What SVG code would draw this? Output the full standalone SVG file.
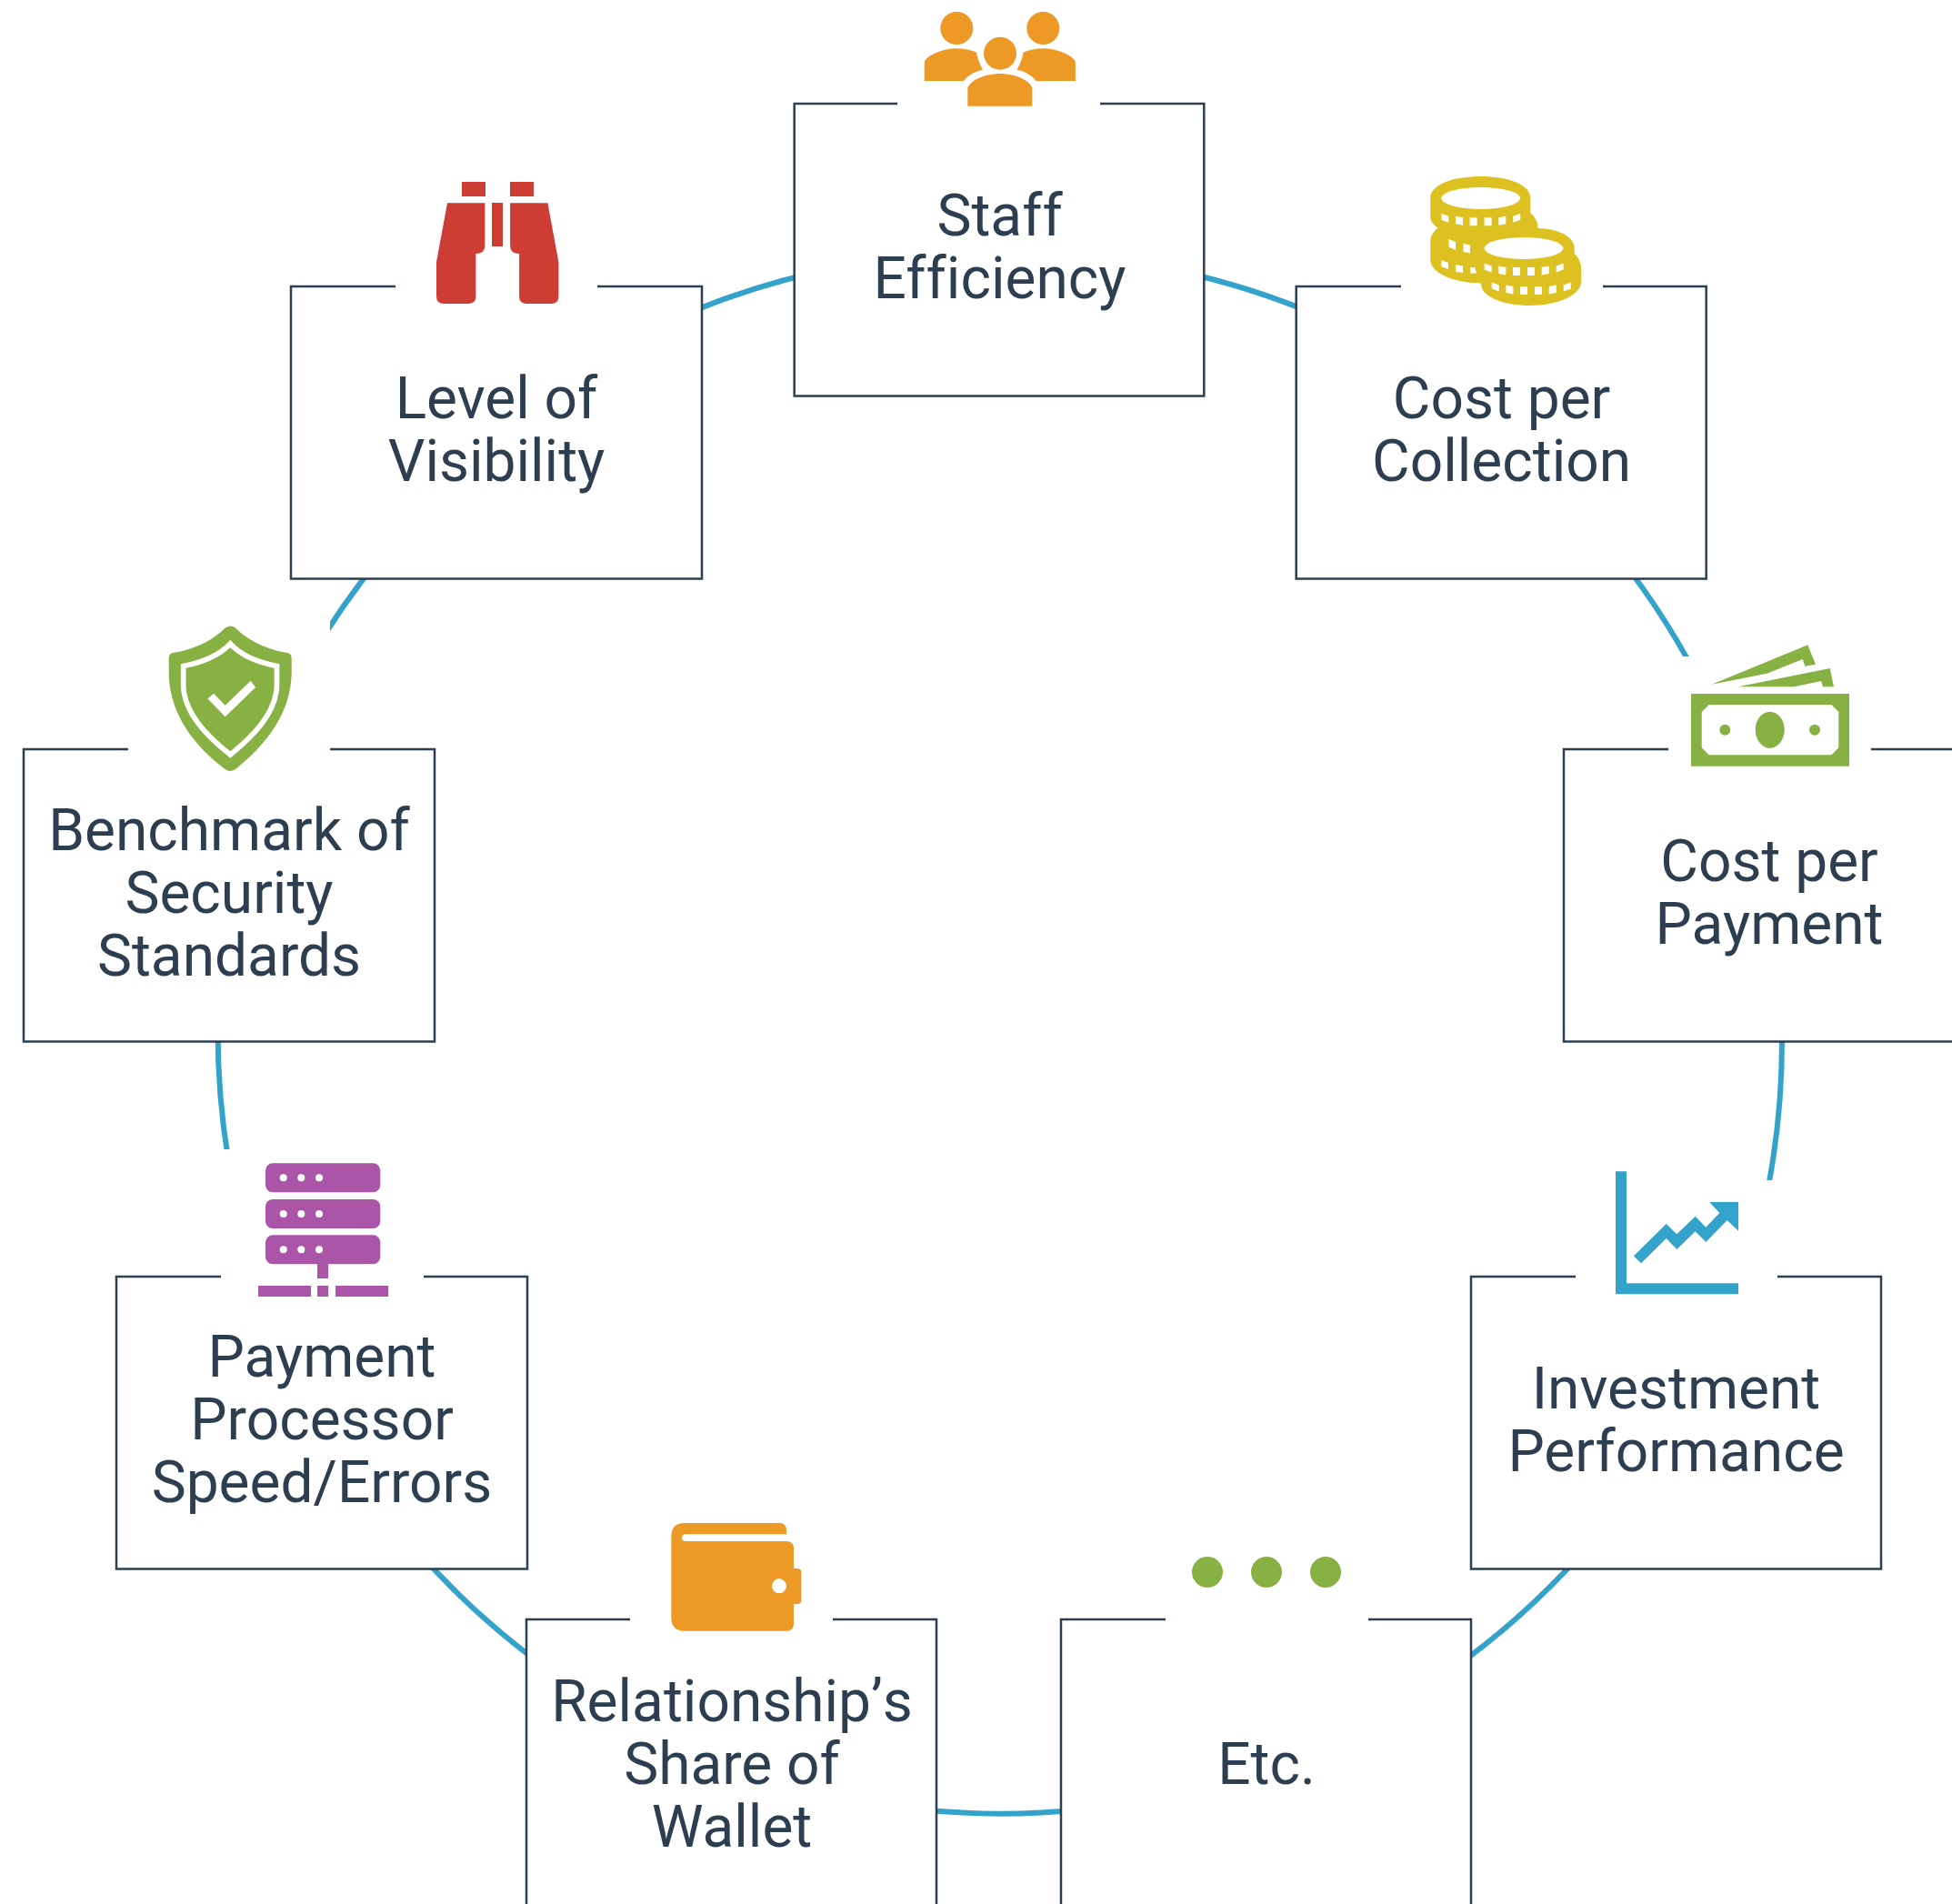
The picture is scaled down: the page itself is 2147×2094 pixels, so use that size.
<svg xmlns="http://www.w3.org/2000/svg" width="2147" height="2094" viewBox="0 0 2147 2094">
<style>
.box{fill:#fff;stroke:#2d3e50;stroke-width:2.5}
.mask{fill:#fff}
.arc{fill:none;stroke:#34a3cc;stroke-width:6}
text{font-family:Roboto,"Liberation Sans",sans-serif;font-size:64px;fill:#2d3e50;text-anchor:middle;font-variant-ligatures:none}
.o{fill:#ec9a25}.y{fill:#dcc120}.g{fill:#88b143}.b{fill:#34a3cc}.p{fill:#ab55a9}.r{fill:#cd3d33}
.w{fill:#fff}
</style>
<defs>
<path id="body" d="M1016.7 89V68.5C1016.7 63 1035 53.3 1052 53.3C1060 53.3 1068 55 1074 57.5C1075.5 66 1078 71 1081 76.7C1070 79 1064 84 1060 89Z"/>
<path id="row" d="M-4 -4.5L4 -1.5V5.5L-4 2.5ZM11.7 -1.5L19.7 0V8.5L11.7 7ZM27.3 0H35.3V9H27.3ZM43.3 0H51.3V9H43.3ZM59 0L67 -1.5V7L59 8.5ZM75 -1.5L83 -4.5V2.5L75 5.5Z"/>
<path id="barrel" d="M492 223.3H533.3V270Q533.3 279 523.3 279V326Q523.3 334 515 334H488.3Q480 334 480 326V288.3Z"/>
</defs>
<g id="connectors" transform="translate(0 1)">
<path class="arc" d="M1300 298A860 860 0 0 1 1450 346"/>
<path class="arc" d="M1780 610A860 860 0 0 1 1880 770"/>
<path class="arc" d="M1959.6 1120A860 860 0 0 1 1935 1350"/>
<path class="arc" d="M1740 1707A860 860 0 0 1 1590 1840"/>
<path class="arc" d="M1190 1989A860 860 0 0 1 1010 1989"/>
<path class="arc" d="M610 1840A860 860 0 0 1 455 1700"/>
<path class="arc" d="M260 1320A860 860 0 0 1 239.7 1120"/>
<path class="arc" d="M340 725A860 860 0 0 1 420 610"/>
<path class="arc" d="M750 346A860 860 0 0 1 900 298"/>
</g>
<g id="node-staff">
<rect class="box" x="873.7" y="114" width="450.6" height="321.5"/>
<rect class="mask" x="987" y="100" width="223" height="30"/>
<g class="o"><circle cx="1052.3" cy="31" r="18"/><circle cx="1147.3" cy="31" r="18"/><circle cx="1100" cy="58.7" r="18"/>
<use href="#body"/><use href="#body" transform="matrix(-1 0 0 1 2199.6 0)"/>
<path d="M1064.3 116.7V98C1064.3 90 1082 81 1100 81C1118 81 1135.3 90 1135.3 98V116.7Z"/></g>
<text x="1099.5" y="259">Staff</text><text x="1099.5" y="328">Efficiency</text>
</g>
<g id="node-cost-collection">
<rect class="box" x="1425.7" y="315" width="451" height="321.5"/>
<rect class="mask" x="1541" y="300" width="222" height="30"/>
<g class="y">
<path d="M1573.3 217.7C1573.3 203 1598 194 1628.7 194C1659 194 1683.3 203 1683.3 217.7V238C1683.3 240 1683 241 1682.5 233.5C1686 236 1691.7 243 1691.7 250.3L1691.7 251C1718 252 1731.7 262 1731.7 273.5V279C1736 283 1739 289 1739 294V310C1739 325 1712 336 1683 336C1652 336 1629 326 1629 312V311.5C1600 311 1573.3 301 1573.3 285.5V265C1573.3 260 1576 255 1581.5 250.5C1576 247 1573.3 243 1573.3 238Z"/>
</g>
<ellipse class="w" cx="1628.7" cy="218" rx="43.5" ry="12"/>
<ellipse class="w" cx="1676" cy="273" rx="43.5" ry="12"/>
<g class="w">
<use href="#row" x="1589.3" y="239.3"/>
<path d="M1593.5 263L1601 266V275L1593.5 271.5ZM1609.5 268L1617 269.5V278.5L1609.5 277ZM1585.3 286L1593 289V296L1585.3 293ZM1601 291L1609 292.5V300L1601 299ZM1617 294H1622L1624 300.5H1617Z"/>
<use href="#row" x="1636.7" y="294"/>
<use href="#row" x="1644.7" y="315"/>
</g>
<text x="1651.5" y="460">Cost per</text><text x="1651.5" y="529">Collection</text>
</g>
<g id="node-cost-payment">
<rect class="box" x="1720" y="824" width="460" height="321.5"/>
<rect class="mask" x="1835" y="722" width="223" height="112"/>
<path class="g" d="M1860 763H2034V842.7H1860ZM1879.7 775L1871.7 783V822.3L1879.7 830.3H2014.3L2022.3 822.3V783L2014.3 775Z" fill-rule="evenodd"/>
<ellipse class="g" cx="1946.7" cy="802.7" rx="16" ry="20"/>
<circle class="g" cx="1897.3" cy="802.7" r="6"/><circle class="g" cx="1996" cy="802.7" r="6"/>
<polygon class="g" points="1882.7,752.7 1988.3,709.3 1997,730.7 1985.3,732.7 1982.7,725 1943.3,740.7"/>
<polygon class="g" points="1911.7,755.3 2012.7,735 2017,755.3 2005,755.3 2003,749 1973.3,755.3"/>
<text x="1946" y="969">Cost per</text><text x="1946" y="1038">Payment</text>
</g>
<g id="node-investment">
<rect class="box" x="1618" y="1404" width="451" height="321.5"/>
<rect class="mask" x="1733" y="1298" width="222" height="116"/>
<polygon class="b" points="1777,1288.3 1789,1288.3 1789,1411.3 1912,1411.3 1912,1423.3 1777,1423.3"/>
<polygon class="b" points="1797,1381.3 1832.7,1346 1844.3,1357.3 1864.7,1337.7 1876.3,1349.7 1891.3,1334 1880.3,1322 1912,1322 1912,1353.7 1899.7,1342 1876.3,1366 1864.7,1354.3 1844.3,1374 1832.7,1362 1805,1389.3"/>
<text x="1843.5" y="1549">Investment</text><text x="1843.5" y="1618">Performance</text>
</g>
<g id="node-etc">
<rect class="box" x="1167" y="1781" width="451" height="330"/>
<rect class="mask" x="1282" y="1770" width="223" height="25"/>
<circle class="g" cx="1328" cy="1729" r="17"/><circle class="g" cx="1393" cy="1729" r="17"/><circle class="g" cx="1458" cy="1729" r="17"/>
<text x="1393" y="1961.5">Etc.</text>
</g>
<g id="node-relationship">
<rect class="box" x="579" y="1781" width="451" height="330"/>
<rect class="mask" x="693" y="1770" width="223" height="25"/>
<path class="o" d="M753 1675H857Q865 1675 865 1683V1687.3H754.5C748.500 1687.3 748.500 1695 754.5 1695H865Q873 1695 873 1703V1725H877Q881.300 1725 881.300 1729V1760Q881.300 1764 877 1764H873V1785.700Q873 1793.700 865 1793.700H753Q738.300 1793.700 738.300 1779V1690Q738.300 1675 753 1675Z"/>
<circle class="w" cx="857" cy="1744.300" r="8"/>
<text x="805" y="1892.500" style="font-kerning:none">Relationship’s</text><text x="805" y="1961.500">Share of</text><text x="805" y="2030.500">Wallet</text>
</g>
<g id="node-payment-processor">
<rect class="box" x="128" y="1404" width="452" height="321.5"/>
<rect class="mask" x="243" y="1264" width="223" height="150"/>
<g class="p">
<rect x="292" y="1279.300" width="126.300" height="32" rx="8"/>
<rect x="292" y="1319" width="126.300" height="32" rx="8"/>
<rect x="292" y="1358.300" width="126.300" height="32" rx="8"/>
<rect x="349" y="1390" width="12" height="16"/>
<rect x="284" y="1414" width="58" height="12"/>
<rect x="349" y="1414" width="12" height="12"/>
<rect x="369" y="1414" width="58" height="12"/>
</g>
<g class="w">
<circle cx="311.700" cy="1295.300" r="4"/><circle cx="331.300" cy="1295.300" r="4"/><circle cx="351" cy="1295.300" r="4"/>
<circle cx="311.700" cy="1335" r="4"/><circle cx="331.300" cy="1335" r="4"/><circle cx="351" cy="1335" r="4"/>
<circle cx="311.700" cy="1374.300" r="4"/><circle cx="331.300" cy="1374.300" r="4"/><circle cx="351" cy="1374.300" r="4"/>
</g>
<text x="354" y="1514">Payment</text><text x="354" y="1583">Processor</text><text x="354" y="1652">Speed/Errors</text>
</g>
<g id="node-benchmark">
<rect class="box" x="26" y="824" width="452" height="321.5"/>
<rect class="mask" x="141" y="680" width="222" height="155"/>
<path class="g" d="M247 691Q253.300 686 259.600 691C272 704 295 715 316 718Q320.700 719 320.700 724V740C320 790 285 825 259 846Q253.300 850 247.600 846C220 825 186 790 185.700 740V724Q185.700 719 190 718C212 715 235 704 247 691Z"/>
<path d="M253.300 708C240 722 220 729 201.700 732.500V755C203 785 228 810 253.300 830C278 810 303 785 304.500 755V732.500C286 729 266 722 253.300 708Z" fill="none" stroke="#fff" stroke-width="5.700"/>
<polygon class="w" points="228.300,768.300 247.700,788.300 281,756 275.700,748.700 247.700,775.700 235,762.700"/>
<text x="252" y="935">Benchmark of</text><text x="252" y="1004">Security</text><text x="252" y="1073">Standards</text>
</g>
<g id="node-visibility">
<rect class="box" x="320" y="315" width="452" height="321.500"/>
<rect class="mask" x="435" y="300" width="222" height="30"/>
<g class="r">
<rect x="508" y="200" width="26" height="16"/><rect x="561" y="200" width="26" height="16"/>
<rect x="541" y="223" width="12" height="48"/>
<use href="#barrel"/><use href="#barrel" transform="matrix(-1 0 0 1 1094.400 0)"/>
</g>
<text x="546" y="460">Level of</text><text x="546" y="529">Visibility</text>
</g>
</svg>
